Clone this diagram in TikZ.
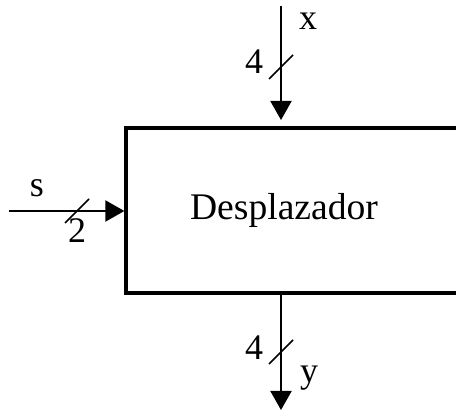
\documentclass[tikz,border=0pt]{standalone}
\usepackage{fontspec}
\setmainfont{Liberation Serif}
\usetikzlibrary{arrows.meta, positioning, calc}

\tikzset{
  bus/.style={line width=2pt, -{Triangle[length=19pt, width=21pt]}},
  slash/.style={line width=1.6pt},
  lbl/.style={font=\fontsize{36}{43}\selectfont, inner sep=0pt, anchor=base},
}

\begin{document}
\begin{tikzpicture}[x=1pt, y=-1pt]
\useasboundingbox (0,0) rectangle (456,411);
\def\boxleft{126}
\def\boxtop{128}
\def\busx{281}
\def\sely{211}
\def\tick{12}

\node[draw, line width=3.3pt, outer sep=0pt, inner sep=0pt, anchor=north west,
  minimum width=420pt, minimum height=165pt] (shifter) at (\boxleft,\boxtop) {};
\node[lbl, font=\fontsize{37.6}{45}\selectfont] (name) at (284,220) {Desplazador};

\coordinate (xin) at (\busx,6);
\coordinate (yout) at (\busx,410);
\coordinate (sin) at (9,\sely);

% buses
\draw[bus, shorten >=8pt] (xin) -- (xin |- shifter.north);
\draw[bus, shorten >=1.6pt] (sin) -- (sin -| shifter.west);
\draw[bus] (yout |- shifter.south) -- (yout);

% width marks
\draw[slash] ($(\busx,67)+(-\tick,\tick)$) -- ++(2*\tick,-2*\tick);
\draw[slash] ($(77,\sely)+(-\tick,\tick)$) -- ++(2*\tick,-2*\tick);
\draw[slash] ($(\busx,352)+(-\tick,\tick)$) -- ++(2*\tick,-2*\tick);

\node[lbl] (xlbl) at (308,30) {x};
\node[lbl] (xw) at (254,74) {4};
\node[lbl] (slbl) at (37,197) {s};
\node[lbl] (sw) at (77,243) {2};
\node[lbl] (yw) at (254,360) {4};
\node[lbl] (ylbl) at (309,383) {y};
\end{tikzpicture}
\end{document}
